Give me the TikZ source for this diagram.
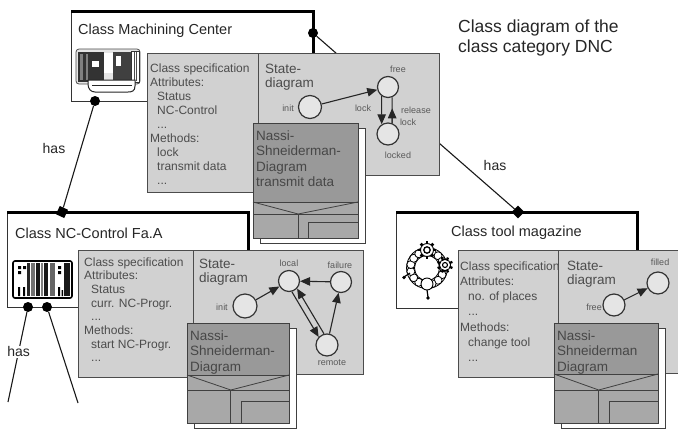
\documentclass[tikz,border=0pt]{standalone}
\usepackage{fontspec}
\setmainfont{Liberation Sans}
\usetikzlibrary{arrows.meta,shapes.geometric}

\definecolor{boxgray}{gray}{0.82}
\definecolor{circgray}{gray}{0.9}
\definecolor{nsgray}{gray}{0.6}
\definecolor{nslow}{gray}{0.66}
\definecolor{inkgray}{gray}{0.3}
\definecolor{labgray}{gray}{0.35}

\newcommand\fsz[2]{\fontsize{#1}{#2}\selectfont}
% stacked lines whose baseline is the first line's baseline
\newcommand\stack[1]{\begin{tabular}[t]{@{}l@{}}#1\end{tabular}}

\tikzset{
  classbox/.style={draw=black!80, fill=white, line width=0.9pt, anchor=north west, inner sep=0, outer sep=0},
  specbox/.style={draw=black!70, fill=boxgray, line width=0.9pt, anchor=north west, inner sep=0, outer sep=0},
  specfill/.style={fill=boxgray, anchor=north west, inner sep=0, outer sep=0},
  specline/.style={draw=black!70, line width=0.9pt},
  heavy/.style={line width=3pt, line join=miter, black},
  classtitle/.style={anchor=base west, inner sep=0, font=\fsz{14.5}{17}, text=black!85},
  spectext/.style={anchor=base west, inner sep=0, font=\fsz{12}{14}, text=inkgray},
  statetitle/.style={anchor=base west, inner sep=0, font=\fsz{13.5}{14.5}, text=inkgray},
  nstext/.style={anchor=base west, inner sep=0, font=\fsz{13.5}{15.5}, text=black!72},
  small/.style={inner sep=0, font=\fsz{9}{10}, text=labgray},
  state/.style={circle, draw=black!80, fill=circgray, line width=1.2pt, inner sep=0},
  dot/.style={circle, fill=black, inner sep=0, minimum size=10pt},
  agg/.style={diamond, fill=black, inner sep=0, minimum width=13pt, minimum height=13pt},
  link/.style={line width=1.1pt, black!90},
  arr/.style={-{Triangle[length=10pt,width=8.5pt]}, line width=1.1pt, draw=black!85},
  hasl/.style={font=\fsz{14}{16}, text=black!85, inner sep=1pt},
  nsback/.style={draw=black!75, fill=white, line width=0.8pt, anchor=north west, inner sep=0, outer sep=0},
  nsfront/.style={fill=nslow, anchor=north west, inner sep=0, outer sep=0},
  nsline/.style={draw=black!75, line width=0.8pt},
}

% Nassi-Shneiderman sheet: name, x, y, width, height, text-area height, wedge depth, text
\newcommand\nsbox[8]{%
  \node[nsback, minimum width=#4pt, minimum height=#5pt] (#1b) at (#2+7,#3+5) {};
  \node[nsfront, minimum width=#4pt, minimum height=#5pt] (#1) at (#2,#3) {};
  \fill[nsgray] (#2,#3) rectangle (#2+#4,#3+#6);
  \draw[nsline] (#2,#3+#6) -- (#2+#4,#3+#6);
  \draw[nsline] (#2,#3+#6) -- (#2+0.43*#4,#3+#6+#7) -- (#2+#4,#3+#6);
  \draw[nsline] (#2,#3+#6+#7) -- (#2+#4,#3+#6+#7);
  \draw[nsline] (#2+0.43*#4,#3+#6+#7) -- (#2+0.43*#4,#3+#5);
  \draw[nsline] (#2+0.53*#4,#3+#5) |- (#2+#4,{#3+#6+#7+(#5-#6-#7)/3});
  \draw[nsline] (#1.north west) rectangle (#1.south east);
  \node[nstext] (#1t) at (#2+3,#3+17) {\stack{#8}};
}

\begin{document}
\begin{tikzpicture}[x=1pt,y=-1pt]
\useasboundingbox (0,0) rectangle (678,429);
\fill[white] (0,0) rectangle (678,429);

% ---------- class frames ----------
\node[classbox, minimum width=242pt, minimum height=90pt] (mcbox) at (71,11) {};
\node[classbox, minimum width=241pt, minimum height=95pt] (ncbox) at (7,212) {};
\node[classbox, minimum width=241pt, minimum height=96pt] (tbox) at (396,212) {};
\draw[heavy] (mcbox.north west) -- (mcbox.north east) -- (mcbox.south east);
\draw[heavy] (ncbox.north west) -- (ncbox.north east) -- (ncbox.south east);
\draw[heavy] (tbox.north west) -- (tbox.north east) -- (tbox.south east);

\node[classtitle] (mctitle) at (78,34) {Class Machining Center};
\node[classtitle] (nctitle) at (15,238) {Class NC-Control Fa.A};
\node[classtitle] (ttitle) at (451,236) {Class tool magazine};

% ---------- associations ----------
\node[dot] (mcdotr) at (313,33) {};
\node[dot] (mcdotb) at (95,101) {};
\node[dot] (ncdot1) at (28,307) {};
\node[dot] (ncdot2) at (47,307) {};
\node[agg, rotate=20] (ncagg) at (62,212) {};
\node[agg] (tagg) at (518,212) {};
\coordinate (ncend1) at (8,402);
\coordinate (ncend2) at (78,403);
\draw[link] (mcdotb) -- (ncagg);
\draw[link] (mcdotr) -- (tagg);
\draw[link] (ncdot1) -- node[hasl, pos=0.44, fill=white] (has3) {has} (ncend1);
\draw[link] (ncdot2) -- (ncend2);
\node[hasl] (has1) at (54,148) {has};
\node[hasl] (has2) at (495,165) {has};

% ---------- icons ----------
% machining center
\draw[black!70, fill=black!10, rounded corners=3pt, line width=0.8pt] (76,49) rectangle (140,84);
\fill[black!80] (78,52) rectangle (104,82);
\fill[black!50] (80,54) rectangle (83,80);
\fill[black!50] (86,54) rectangle (88,80);
\fill[white] (92,61) rectangle (99,67);
\fill[white] (104,53) rectangle (113,73);
\fill[black!75] (113,52) rectangle (131,80);
\fill[white] (116,56) rectangle (121,66);
\draw[black!80, fill=white, line width=0.8pt] (131,51) rectangle (139,82);
\draw[black!70, line width=0.6pt] (134,52) -- (134,81) (136.5,52) -- (136.5,81);
\draw[black!85, fill=white, line width=1pt] (88,80) -- (135,80) -- (135,86) .. controls (135,91) and (132,92) .. (128,92) -- (95,92) .. controls (91,92) and (88,89) .. (88,84) -- cycle;
\draw[black!85, line width=1.6pt] (92,85.5) -- (132,85.5);

% NC control rack
\draw[black, line width=1.6pt, fill=white, rounded corners=2pt] (13,261) rectangle (72,298);
\fill[black!85] (27,263) rectangle (30,296);
\fill[black!55] (31,263) rectangle (35,296);
\fill[black!90] (36,263) rectangle (40,296);
\fill[black!50] (41,263) rectangle (43,296);
\fill[black!90] (44,263) rectangle (48,296);
\fill[black!60] (50,263) rectangle (55,296);
\fill[black!90] (64,263) rectangle (70,296);
\fill[black] (18,266) rectangle (21,269) (23,266) rectangle (26,269) (18,271) rectangle (21,274);
\fill[black] (18,287) rectangle (20,296) (23,287) rectangle (25,296);
\fill[black] (58,266) rectangle (61,269) (58,271) rectangle (61,274);
\fill[black] (58,287) rectangle (60,296) (61.5,290) rectangle (63,296);

% tool magazine: bead chain with two sprockets
\draw[black, line width=0.8pt] (427,268) circle (20.5);
\draw[black, line width=0.8pt, fill=white] (427,268) circle (12.5);
\foreach \a in {0,24,...,336}
  \draw[black, fill=white, line width=0.8pt] (427,268) ++(\a:16.5) circle (4);
\foreach \a in {0,45,...,315}
  \draw[line width=2.6pt] (427,250) -- ++(\a:9);
\draw[fill=white, line width=0.9pt] (427,250) circle (6.5);
\draw[line width=1.3pt] (427,250) circle (3.2);
\foreach \a in {22,67,...,337}
  \draw[line width=2.3pt] (445,265) -- ++(\a:8);
\draw[fill=white, line width=0.9pt] (445,265) circle (5.6);
\draw[line width=1.1pt] (445,265) circle (2.5);
\draw[fill=white, line width=0.9pt] (427,284) circle (6);
\draw[line width=1.2pt] (427,290) -- (428,297);
\fill (428,298) circle (1.9);
\draw[line width=1.2pt] (410,273) -- (404,277);
\fill (404,277.5) circle (1.9);

% ---------- specification panels ----------
\node[specbox, minimum width=111pt, minimum height=139pt] (mcspec) at (147,53) {};
\node[specbox, minimum width=181pt, minimum height=122pt] (mcstate) at (258,53) {};
\node[spectext] (mcspect) at (150,72) {\stack{Class specification\\Attributes:\\\hspace*{7pt}Status\\\hspace*{7pt}NC-Control\\\hspace*{7pt}...\\Methods:\\\hspace*{7pt}lock\\\hspace*{7pt}transmit data\\\hspace*{7pt}...}};
\node[statetitle] (mcstatet) at (265,73) {\stack{State-\\diagram}};

\node[specbox, minimum width=115pt, minimum height=127pt] (ncspec) at (78,250) {};
\node[specbox, minimum width=170pt, minimum height=124pt] (ncstate) at (193,250) {};
\node[spectext, font=\fsz{12}{13.7}] (ncspect) at (84,266) {\stack{Class specification\\Attributes:\\\hspace*{7pt}Status\\\hspace*{7pt}curr. NC-Progr.\\\hspace*{7pt}...\\Methods:\\\hspace*{7pt}start NC-Progr.\\\hspace*{7pt}...}};
\node[statetitle] (ncstatet) at (199,268) {\stack{State-\\diagram}};

\node[specbox, minimum width=100pt, minimum height=127pt] (tspec) at (458,250) {};
\node[specfill, minimum width=120pt, minimum height=123pt] (tstate) at (558,250) {};
\draw[specline] (tstate.north east) -- (tstate.north west) -- (tstate.south west) -- (tstate.south east);
\node[spectext, font=\fsz{12}{15.3}] (tspect) at (460,270) {\stack{Class specification\\Attributes:\\\hspace*{8pt}no. of places\\\hspace*{8pt}...\\Methods:\\\hspace*{8pt}change tool\\\hspace*{8pt}...}};
\node[statetitle] (tstatet) at (567,270) {\stack{State-\\diagram}};

% ---------- state diagrams ----------
% machining center
\node[state, minimum size=23pt] (mcinit) at (310,107) {};
\node[state, minimum size=21pt] (mcfree) at (388,87) {};
\node[state, minimum size=22pt] (mclocked) at (388,134) {};
\draw[arr] (mcinit) -- (mcfree);
\draw[arr] (mcfree.-125) -- (mclocked.123);
\draw[link, line width=1.1pt, black!85] (mclocked.69) -- (mcfree.-68);
\draw[arr, shorten >=11pt] (mclocked.69) -- (mcfree.-68);
\node[small] (mcl1) at (288,108) {init};
\node[small] (mcl2) at (398,69) {free};
\node[small] (mcl3) at (363,108) {lock};
\node[small] (mcl4) at (416,110) {release};
\node[small] (mcl5) at (408,122) {lock};
\node[small] (mcl6) at (398,155) {locked};

% NC control
\node[state, minimum size=24pt] (ncinit) at (245,306) {};
\node[state, minimum size=21pt] (nclocal) at (289,281) {};
\node[state, minimum size=21pt] (ncfail) at (341,282) {};
\node[state, minimum size=22pt] (ncremote) at (327,345) {};
\draw[arr] (ncinit) -- (nclocal);
\draw[arr] (ncfail) -- (nclocal);
\draw[arr] (nclocal.-75) -- (ncremote.136);
\draw[arr] (ncremote.105) -- (nclocal.-43);
\draw[arr] (ncremote) -- (ncfail);
\node[small] (ncl1) at (222,307) {init};
\node[small] (ncl2) at (289,263) {local};
\node[small] (ncl3) at (340,265) {failure};
\node[small] (ncl4) at (332,363) {remote};

% tool magazine
\node[state, minimum size=22pt] (tfree) at (614,305) {};
\node[state, minimum size=22pt] (tfilled) at (658,283) {};
\draw[arr] (tfree) -- (tfilled);
\node[small] (tl1) at (594,307) {free};
\node[small] (tl2) at (660,262) {filled};

% ---------- Nassi-Shneiderman sheets ----------
\nsbox{mcns}{253}{123}{105}{115}{79}{12}{Nassi-\\Shneiderman-\\Diagram\\transmit data}
\nsbox{ncns}{187}{323}{102}{100}{52}{15}{Nassi-\\Shneiderman-\\Diagram}
\nsbox{tns}{554}{323}{104}{100}{51}{16}{Nassi-\\Shneiderman\\Diagram}

% ---------- caption ----------
\node[anchor=base west, inner sep=0, font=\fsz{17.5}{20}, text=black!85] (caption) at (458,32) {\stack{Class diagram of the\\class category DNC}};

\end{tikzpicture}
\end{document}
